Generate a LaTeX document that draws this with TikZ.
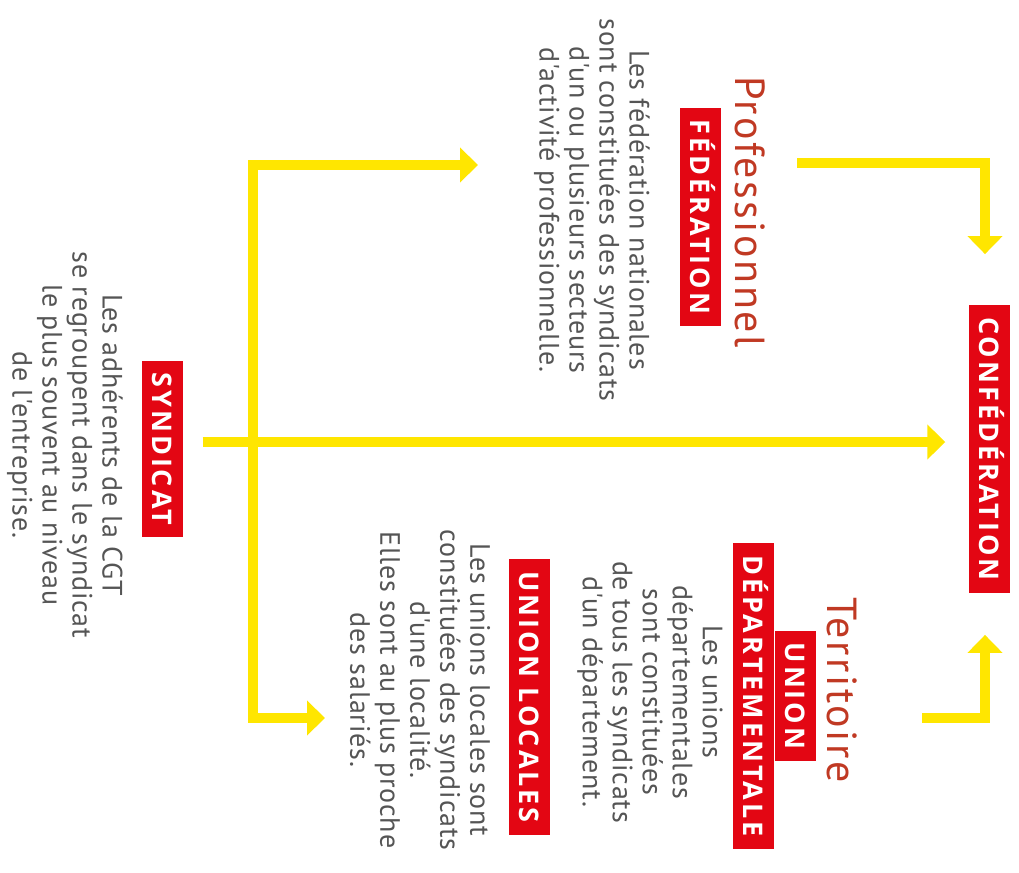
\documentclass[tikz,border=0pt]{standalone}
\usepackage{fontspec}
\setmainfont{PT Sans}
\newfontfamily\labelfont[LetterSpace=11]{Open Sans}
\newfontfamily\bodyfont[LetterSpace=3]{PT Sans}
\newfontfamily\headfont[LetterSpace=6]{PT Sans}
\usetikzlibrary{arrows.meta,calc}
\definecolor{cgtred}{RGB}{227,6,19}
\definecolor{cgtyellow}{RGB}{255,230,0}
\definecolor{bodygray}{RGB}{85,85,85}
\definecolor{headred}{RGB}{192,57,35}

\tikzset{
	redbox/.style={fill=cgtred, text=white, rotate=-90, font=\labelfont\bfseries\fontsize{27}{27}\selectfont,
		inner xsep=12pt, inner ysep=10.5pt, text height=20pt, text depth=0pt},
	bodytext/.style={text=bodygray, rotate=-90, align=center, inner sep=0pt, font=\bodyfont\fontsize{28}{30}\selectfont},
	heading/.style={text=headred, rotate=-90, inner sep=0pt, font=\headfont\fontsize{42}{42}\selectfont},
	flow/.style={draw=cgtyellow, line width=10pt, -{Triangle[length=18pt,width=34pt]}},
}

\begin{document}
\begin{tikzpicture}[x=1pt, y=-1pt]
	\useasboundingbox (0,0) rectangle (1019,872);

	% base
	\node[redbox] (syndicat) at (162,449) {SYNDICAT};
	\node[bodytext] (syndtext) at (65,445) {Les adhérents de la CGT\\se regroupent dans le syndicat\\le plus souvent au niveau\\de l'entreprise.};

	% professionnel
	\node[heading] (prof) at (750,212) {Professionnel};
	\node[redbox] (fed) at (700,217) {FÉDÉRATION};
	\node[bodytext] (fedtext) at (592,210) {Les fédération nationales\\sont constituées des syndicats\\d'un ou plusieurs secteurs\\d'activité professionnelle.};

	% territoire
	\node[heading] (terr) at (842,690) {Territoire};
	\node[redbox] (udunion) at (795,696) {UNION};
	\node[redbox, anchor=north] (uddep) at (udunion.south) {DÉPARTEMENTALE};
	\node[bodytext] (udtext) at (650,692) {Les unions\\départementales\\sont constituées\\de tous les syndicats\\d'un département.};
	\node[redbox] (ul) at (529,697) {UNION LOCALES};
	\node[bodytext] (ultext) at (420,690) {Les unions locales sont\\constituées des syndicats\\d'une localité.\\Elles sont au plus proche\\des salariés.};

	% top
	\node[redbox] (confed) at (989,449) {CONFÉDÉRATION};

	\coordinate (trunk) at ($(syndicat.north)+(70,-7)$);
	\coordinate (fedin) at (478,165);
	\coordinate (ulin) at (325,718);
	\coordinate (profout) at (797,163);
	\coordinate (terrout) at (922,718);

	\draw[flow] ($(syndicat.north)+(20,-7)$) -- ($(confed.south)+(-23,-7)$);
	\draw[flow, {Triangle[length=18pt,width=34pt]}-{Triangle[length=18pt,width=34pt]}]
		(fedin) -- (fedin -| trunk) -- (ulin -| trunk) -- (ulin);
	\draw[flow] (profout) -| ($(confed.west)+(-4,-51)$);
	\draw[flow] (terrout) -| ($(confed.east)+(-4,42)$);
\end{tikzpicture}
\end{document}
